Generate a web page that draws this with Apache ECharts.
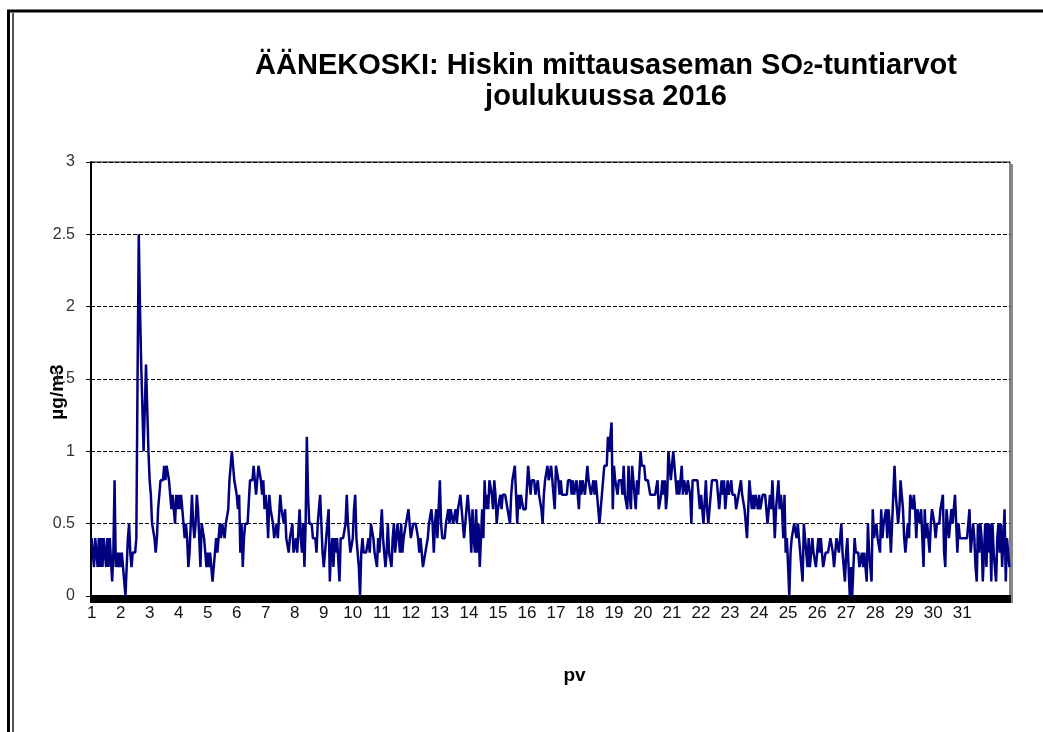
<!DOCTYPE html>
<html>
<head>
<meta charset="utf-8">
<title>ÄÄNEKOSKI SO2-tuntiarvot</title>
<script src="https://cdn.jsdelivr.net/npm/echarts@6.0.0/dist/echarts.min.js"></script>
<style>
  html, body { margin: 0; padding: 0; background: #fff; }
  #chart { width: 1043px; height: 732px; }
</style>
</head>
<body>
<div id="chart"></div>
<script>
// päivien tunnukset x-akselille
const dayLabels = ['1', '2', '3', '4', '5', '6', '7', '8', '9', '10', '11', '12', '13', '14', '15', '16',
  '17', '18', '19', '20', '21', '22', '23', '24', '25', '26', '27', '28', '29', '30', '31']

// tuntiarvot (µg/m3), yksi rivi per vuorokausi
const hourly = [
  [0.4, 0.3, 0.2, 0.4, 0.3, 0.2, 0.4, 0.2, 0.4, 0.2, 0.4, 0.3, 0.2, 0.4, 0.2, 0.4, 0.4, 0.1, 0.3, 0.8, 0.2, 0.3, 0.2, 0.3],
  [0.2, 0.3, 0.2, 0.1, 0.0, 0.2, 0.4, 0.5, 0.3, 0.2, 0.3, 0.3, 0.3, 0.4, 1.5, 2.5, 2.0, 1.6, 1.3, 1.0, 1.3, 1.6, 1.3, 1.0],
  [0.8, 0.7, 0.5, 0.5, 0.4, 0.3, 0.4, 0.6, 0.7, 0.8, 0.8, 0.8, 0.9, 0.8, 0.9, 0.9, 0.8, 0.8, 0.6, 0.7, 0.7, 0.5, 0.7, 0.6],
  [0.7, 0.6, 0.7, 0.6, 0.6, 0.4, 0.5, 0.4, 0.2, 0.3, 0.5, 0.7, 0.5, 0.4, 0.5, 0.7, 0.6, 0.4, 0.2, 0.5, 0.5, 0.4, 0.3, 0.2],
  [0.3, 0.2, 0.3, 0.2, 0.1, 0.2, 0.2, 0.4, 0.3, 0.3, 0.5, 0.4, 0.5, 0.5, 0.4, 0.5, 0.5, 0.6, 0.8, 0.9, 1.0, 0.9, 0.8, 0.8],
  [0.7, 0.6, 0.7, 0.3, 0.5, 0.2, 0.4, 0.5, 0.5, 0.5, 0.5, 0.8, 0.8, 0.8, 0.9, 0.8, 0.7, 0.7, 0.9, 0.9, 0.8, 0.7, 0.8, 0.6],
  [0.7, 0.6, 0.4, 0.7, 0.6, 0.6, 0.5, 0.4, 0.4, 0.5, 0.4, 0.4, 0.7, 0.6, 0.6, 0.5, 0.6, 0.4, 0.4, 0.3, 0.4, 0.4, 0.5, 0.3],
  [0.3, 0.4, 0.3, 0.3, 0.6, 0.4, 0.3, 0.5, 0.2, 0.5, 1.1, 0.7, 0.5, 0.5, 0.5, 0.4, 0.4, 0.4, 0.3, 0.5, 0.6, 0.7, 0.5, 0.3],
  [0.2, 0.2, 0.4, 0.5, 0.6, 0.1, 0.3, 0.4, 0.2, 0.4, 0.3, 0.4, 0.4, 0.1, 0.4, 0.4, 0.4, 0.4, 0.5, 0.7, 0.5, 0.4, 0.3, 0.3],
  [0.4, 0.6, 0.7, 0.4, 0.3, 0.2, 0.0, 0.3, 0.4, 0.3, 0.3, 0.3, 0.3, 0.4, 0.3, 0.5, 0.5, 0.4, 0.3, 0.3, 0.2, 0.4, 0.3, 0.3],
  [0.6, 0.4, 0.3, 0.2, 0.3, 0.5, 0.3, 0.3, 0.2, 0.4, 0.5, 0.3, 0.4, 0.5, 0.5, 0.3, 0.5, 0.3, 0.4, 0.4, 0.5, 0.5, 0.6, 0.5],
  [0.4, 0.4, 0.5, 0.5, 0.5, 0.5, 0.4, 0.3, 0.4, 0.3, 0.2, 0.2, 0.3, 0.3, 0.4, 0.5, 0.5, 0.6, 0.5, 0.3, 0.5, 0.6, 0.4, 0.6],
  [0.8, 0.5, 0.4, 0.4, 0.4, 0.5, 0.5, 0.6, 0.5, 0.6, 0.6, 0.5, 0.5, 0.6, 0.5, 0.6, 0.6, 0.7, 0.6, 0.5, 0.4, 0.4, 0.6, 0.7],
  [0.6, 0.5, 0.3, 0.6, 0.4, 0.3, 0.6, 0.3, 0.5, 0.2, 0.4, 0.6, 0.4, 0.8, 0.6, 0.7, 0.6, 0.8, 0.8, 0.7, 0.6, 0.8, 0.7, 0.5],
  [0.6, 0.6, 0.7, 0.6, 0.7, 0.7, 0.7, 0.7, 0.6, 0.6, 0.5, 0.7, 0.8, 0.8, 0.9, 0.7, 0.5, 0.7, 0.6, 0.7, 0.7, 0.6, 0.6, 0.6],
  [0.6, 0.9, 0.8, 0.7, 0.8, 0.8, 0.8, 0.7, 0.7, 0.8, 0.7, 0.7, 0.6, 0.5, 0.7, 0.8, 0.8, 0.9, 0.8, 0.8, 0.9, 0.8, 0.8, 0.6],
  [0.9, 0.9, 0.8, 0.7, 0.8, 0.7, 0.7, 0.7, 0.7, 0.7, 0.8, 0.8, 0.8, 0.7, 0.8, 0.7, 0.7, 0.8, 0.7, 0.6, 0.8, 0.7, 0.8, 0.8],
  [0.7, 0.8, 0.9, 0.8, 0.8, 0.7, 0.7, 0.8, 0.7, 0.8, 0.7, 0.6, 0.5, 0.6, 0.7, 0.8, 0.9, 0.9, 0.9, 1.1, 1.0, 1.1, 1.2, 0.6],
  [0.9, 0.8, 0.8, 0.7, 0.8, 0.8, 0.8, 0.7, 0.9, 0.7, 0.7, 0.6, 0.9, 0.7, 0.6, 0.9, 0.8, 0.8, 0.6, 0.8, 0.7, 0.7, 1.0, 0.9],
  [0.9, 0.9, 0.8, 0.8, 0.8, 0.8, 0.7, 0.7, 0.7, 0.7, 0.7, 0.7, 0.8, 0.6, 0.6, 0.7, 0.8, 0.7, 0.8, 0.6, 0.7, 1.0, 0.9, 0.8],
  [0.9, 1.0, 0.9, 0.8, 0.7, 0.8, 0.7, 0.8, 0.9, 0.7, 0.8, 0.8, 0.7, 0.8, 0.8, 0.7, 0.5, 0.8, 0.8, 0.8, 0.8, 0.8, 0.7, 0.6],
  [0.7, 0.6, 0.5, 0.5, 0.8, 0.6, 0.5, 0.5, 0.7, 0.8, 0.8, 0.8, 0.8, 0.8, 0.8, 0.6, 0.7, 0.8, 0.7, 0.8, 0.6, 0.6, 0.8, 0.7],
  [0.7, 0.8, 0.7, 0.7, 0.7, 0.6, 0.6, 0.7, 0.7, 0.8, 0.7, 0.7, 0.6, 0.5, 0.4, 0.6, 0.8, 0.7, 0.6, 0.7, 0.6, 0.7, 0.7, 0.6],
  [0.7, 0.6, 0.6, 0.7, 0.7, 0.7, 0.6, 0.5, 0.6, 0.7, 0.6, 0.8, 0.6, 0.4, 0.6, 0.7, 0.8, 0.6, 0.7, 0.6, 0.4, 0.7, 0.3, 0.4],
  [0.4, 0.0, 0.3, 0.4, 0.4, 0.5, 0.5, 0.4, 0.5, 0.4, 0.3, 0.2, 0.1, 0.5, 0.4, 0.3, 0.2, 0.4, 0.2, 0.2, 0.4, 0.3, 0.3, 0.2],
  [0.3, 0.4, 0.3, 0.4, 0.3, 0.2, 0.2, 0.3, 0.3, 0.3, 0.3, 0.4, 0.4, 0.3, 0.2, 0.3, 0.4, 0.4, 0.3, 0.3, 0.5, 0.3, 0.2, 0.1],
  [0.3, 0.4, 0.2, 0.0, 0.2, 0.0, 0.2, 0.4, 0.3, 0.3, 0.3, 0.2, 0.2, 0.3, 0.2, 0.3, 0.3, 0.1, 0.5, 0.3, 0.2, 0.1, 0.6, 0.4],
  [0.4, 0.5, 0.4, 0.4, 0.3, 0.6, 0.4, 0.5, 0.5, 0.6, 0.4, 0.6, 0.5, 0.3, 0.5, 0.7, 0.9, 0.7, 0.6, 0.5, 0.6, 0.8, 0.7, 0.6],
  [0.4, 0.3, 0.4, 0.5, 0.4, 0.7, 0.7, 0.6, 0.7, 0.6, 0.4, 0.6, 0.6, 0.5, 0.6, 0.6, 0.2, 0.6, 0.4, 0.5, 0.5, 0.3, 0.5, 0.6],
  [0.6, 0.5, 0.4, 0.5, 0.5, 0.5, 0.6, 0.6, 0.7, 0.3, 0.2, 0.6, 0.5, 0.4, 0.5, 0.6, 0.5, 0.5, 0.7, 0.5, 0.3, 0.5, 0.4, 0.4],
  [0.4, 0.4, 0.4, 0.4, 0.4, 0.4, 0.6, 0.3, 0.4, 0.5, 0.4, 0.2, 0.1, 0.5, 0.3, 0.5, 0.4, 0.1, 0.3, 0.5, 0.2, 0.5, 0.3, 0.5],
  [0.1, 0.5, 0.3, 0.3, 0.1, 0.4, 0.5, 0.3, 0.5, 0.2, 0.4, 0.6, 0.1, 0.4, 0.3, 0.2]
]

// kategoriat: päivän numero vuorokauden ensimmäiselle tunnille, muuten tyhjä
const categories = []
const values = []
hourly.forEach((day, d) => {
  day.forEach((v, h) => {
    categories.push(h === 0 ? (dayLabels[d] || '') : '')
    values.push(v)
  })
})

const font = 'Liberation Sans, Arial, sans-serif'
const chart = echarts.init(document.getElementById('chart'))

const option = {
  animation: false,
  backgroundColor: '#fff',
  title: {
    text: '{t|ÄÄNEKOSKI: Hiskin mittausaseman SO}{s|2}{t|-tuntiarvot}\n{t|joulukuussa 2016}',
    left: 601,
    top: 44,
    textAlign: 'center',
    textStyle: {
      fontFamily: font,
      fontWeight: 'bold',
      fontSize: 29,
      color: '#000',
      rich: {
        t: { fontFamily: font, fontWeight: 'bold', fontSize: 29, lineHeight: 31, color: '#000', verticalAlign: 'bottom' },
        s: { fontFamily: font, fontWeight: 'bold', fontSize: 19, lineHeight: 31, color: '#000', verticalAlign: 'bottom', padding: [0, 0, 2, 0] }
      }
    }
  },
  grid: {
    left: 91,
    right: 33,
    top: 162,
    bottom: 136,
    show: true,
    borderColor: '#000',
    borderWidth: 1,
    backgroundColor: '#fff'
  },
  xAxis: {
    type: 'category',
    data: categories,
    boundaryGap: true,
    name: 'pv',
    nameLocation: 'middle',
    nameGap: 70,
    nameMoveOverlap: false,
    nameTextStyle: { fontFamily: font, fontWeight: 'bold', fontSize: 19, color: '#000', padding: [0, 0, 0, 48] },
    axisLine: { lineStyle: { color: '#000', width: 2 } },
    axisTick: { show: true, interval: 0, length: 7, lineStyle: { color: '#000', width: 2 } },
    axisLabel: {
      interval: (idx, val) => val !== '',
      hideOverlap: false,
      margin: 9,
      fontFamily: font,
      fontSize: 17,
      color: '#111'
    },
    splitLine: { show: false }
  },
  yAxis: {
    type: 'value',
    min: 0,
    max: 3,
    interval: 0.5,
    name: 'µg/m3',
    nameLocation: 'middle',
    nameRotate: 90,
    nameGap: 24,
    nameMoveOverlap: false,
    nameTextStyle: { fontFamily: font, fontWeight: 'bold', fontSize: 19, color: '#000', padding: [0, 26, 0, 0] },
    axisLine: { show: true, lineStyle: { color: '#000', width: 2 } },
    axisTick: { show: true, length: 5, lineStyle: { color: '#000' } },
    axisLabel: { margin: 16, fontFamily: font, fontSize: 16, color: '#333' },
    splitLine: { show: true, lineStyle: { color: '#000', width: 1, type: [4, 2] } }
  },
  series: [
    {
      type: 'line',
      data: values,
      showSymbol: false,
      symbol: 'none',
      lineStyle: { color: '#000080', width: 2.5 },
      itemStyle: { color: '#000080' },
      z: 3
    }
  ],
  // kaavioalueen reunaviivat
  graphic: [
    { type: 'line', silent: true, shape: { x1: 7, y1: 11, x2: 1043, y2: 11 }, style: { stroke: '#000', lineWidth: 3 } },
    { type: 'line', silent: true, shape: { x1: 8.5, y1: 10, x2: 8.5, y2: 732 }, style: { stroke: '#000', lineWidth: 3 } },
    { type: 'line', silent: true, shape: { x1: 13, y1: 13, x2: 13, y2: 732 }, style: { stroke: '#555', lineWidth: 2 } },
    { type: 'line', silent: true, shape: { x1: 1012, y1: 164, x2: 1012, y2: 603 }, style: { stroke: '#888', lineWidth: 2 } }
  ]
}

chart.setOption(option)
</script>
</body>
</html>
